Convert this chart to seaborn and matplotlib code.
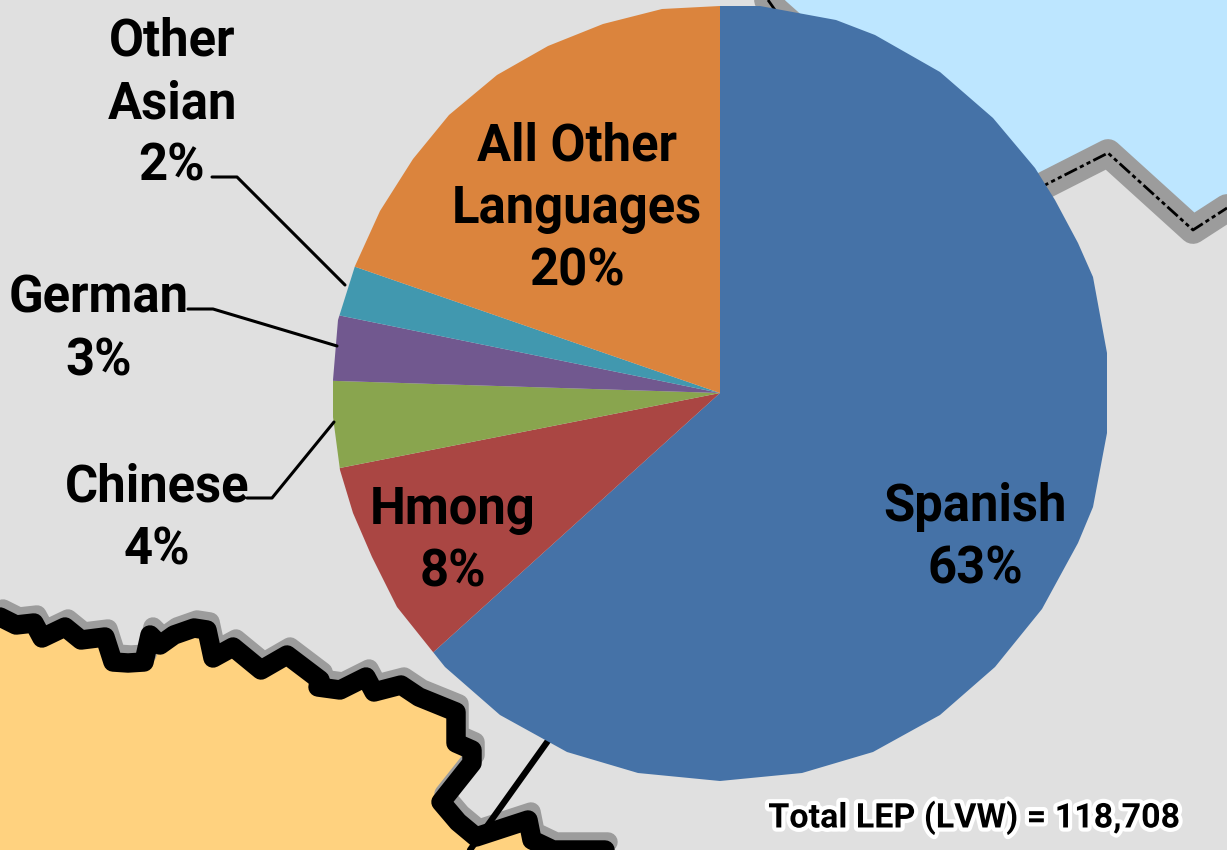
import matplotlib
matplotlib.use('Agg')
import matplotlib.pyplot as plt
import matplotlib.patheffects as pe
from matplotlib.patches import Polygon
import seaborn as sns

# pie values
languages = ['Spanish', 'Hmong', 'Chinese', 'German', 'Other Asian', 'All Other Languages']
shares = [63.3, 8.6, 3.6, 2.7, 2.1, 19.7]
colors = ['#4572A7', '#AA4643', '#89A54E', '#71588F', '#4198AF', '#DB843D']

# labels drawn on the chart
label_text = ['Spanish\n63%', 'Hmong\n8%', 'Chinese\n4%', 'German\n3%', 'Other\nAsian\n2%', 'All Other\nLanguages\n20%']
label_x = [975, 453, 157, 99, 172, 577]
label_y = [538, 541, 519, 330, 104, 209]
total_text = 'Total LEP (LVW) = 118,708'

# leader lines
leader_x = [[212, 237, 345], [188, 213, 337], [247, 272, 334]]
leader_y = [[177, 177, 285], [309, 309, 346], [498, 498, 422]]

# faceted outline of the pie in the source image
outline_x = [720, 760, 836, 875, 940, 993, 1035, 1055, 1078, 1093, 1107, 1107, 1093, 1078, 1042, 995, 940, 873, 802,
             720, 638, 567, 500, 445, 397, 372, 353, 340, 333, 333, 338, 355, 380, 413, 449, 497, 548, 603, 662]
outline_y = [6, 6, 20, 35, 72, 118, 168, 200, 243, 277, 353, 433, 507, 543, 609, 667, 715, 752, 773,
             781, 773, 752, 715, 667, 607, 557, 513, 470, 417, 380, 320, 266, 211, 159, 115, 75, 46, 24, 9]

# map background, in picture pixels
lake_x = [768, 775, 1000, 1047, 1108, 1193, 1227]
lake_y = [0, 10, 210, 184, 153, 230, 208]
state_x = [0, 16, 34, 42, 65, 81, 105, 113, 128, 144, 150, 160, 174, 194, 207, 213, 233, 261, 287,
           320, 318, 340, 366, 374, 401, 419, 456, 456, 472, 472, 441, 458, 476, 528, 532, 553, 605]
state_y = [617, 625, 623, 638, 627, 640, 637, 662, 663, 662, 635, 645, 635, 628, 630, 658, 647, 670, 655,
           680, 687, 690, 677, 692, 685, 697, 712, 743, 750, 763, 802, 822, 837, 820, 840, 850, 850]
road_x = [550, 470]
road_y = [738, 850]

sns.set_theme(style='white')
plt.rcParams['font.family'] = ['Roboto', 'Liberation Sans', 'DejaVu Sans']

fig, ax = plt.subplots(figsize=(12.27, 8.5), dpi=100)
fig.patch.set_facecolor('#E0E0E0')
ax.set_position([0, 0, 1, 1])

# water and lake boundary
ax.fill(lake_x + [1227], lake_y + [0], color='#BDE6FF', lw=0, zorder=1)
ax.plot(lake_x, lake_y, color='#9C9C9C', lw=20, solid_joinstyle='round', zorder=2)
ax.plot(lake_x, lake_y, color='black', lw=2, ls=(0, (5, 1.2, 1.5, 1.2, 1.5, 1.2)), zorder=3)

# neighbouring state and its border
ax.fill(state_x + [0], state_y + [850], color='#FFD27F', lw=0, zorder=1)
ax.plot([x + 3 for x in state_x], [y - 8 for y in state_y], color='#9C9C9C', lw=14,
        solid_joinstyle='round', solid_capstyle='round', zorder=2)
ax.plot(state_x, state_y, color='black', lw=14, solid_joinstyle='round', solid_capstyle='round', zorder=3)
ax.plot(road_x, road_y, color='black', lw=4.5, zorder=3)

# y axis runs downward, so counterclock here turns clockwise on screen
wedges, _ = ax.pie(shares, colors=sns.color_palette(colors), startangle=270, counterclock=True,
                   center=(720, 393), radius=395, frame=True, wedgeprops={'linewidth': 0})
outline = Polygon(list(zip(outline_x, outline_y)), closed=True, transform=ax.transData)
for w in wedges:
    w.set_zorder(4)
    w.set_clip_on(True)
    w.set_clip_path(outline)

ax.set_xlim(0, 1227)
ax.set_ylim(850, 0)
ax.axis('off')

for xs, ys in zip(leader_x, leader_y):
    ax.plot(xs, ys, color='black', lw=2.2, zorder=5)

for t, x, y in zip(label_text, label_x, label_y):
    ax.text(x, y, t, ha='center', va='center', fontsize=36.5, fontweight='bold',
            color='black', linespacing=1.32, zorder=6)

ax.text(974, 818, total_text, ha='center', va='center', fontsize=24.5, fontweight='bold', color='black', zorder=6,
        path_effects=[pe.withStroke(linewidth=6, foreground='white')])

fig.savefig('out.png', dpi=100, facecolor=fig.get_facecolor())
